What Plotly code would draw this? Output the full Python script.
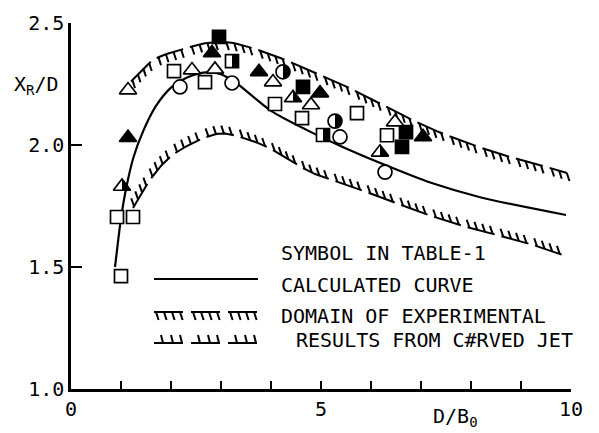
import numpy as np
import plotly.graph_objects as go

# ---------------- data ----------------
# calculated curve X_R/D vs D/B0
calc_x = [0.88, 0.95, 1.0, 1.1, 1.25, 1.45, 1.7, 2.0, 2.3, 2.7, 3.0, 3.3, 3.6, 4.0, 4.7, 5.4, 6.2, 7.2, 8.2, 9.9]
calc_y = [1.50, 1.62, 1.70, 1.82, 1.95, 2.06, 2.16, 2.235, 2.275, 2.298, 2.29, 2.255, 2.205, 2.14, 2.063, 1.995, 1.925, 1.845, 1.785, 1.713]

# domain of experimental results from curved jet (upper / lower bounds)
upper_x = [1.2, 1.64, 2.18, 2.72, 3.24, 3.92, 4.52, 4.98, 5.52, 5.92, 6.44, 7.12, 7.78, 8.52, 9.24, 9.92]
upper_y = [2.26, 2.348, 2.389, 2.418, 2.418, 2.377, 2.328, 2.287, 2.238, 2.197, 2.143, 2.074, 2.02, 1.967, 1.926, 1.885]
lower_x = [1.24, 1.58, 1.92, 2.32, 2.92, 3.38, 3.92, 4.44, 4.84, 5.52, 6.18, 7.04, 7.78, 8.52, 9.18, 9.84]
lower_y = [1.742, 1.857, 1.939, 1.996, 2.045, 2.033, 1.992, 1.93, 1.885, 1.836, 1.787, 1.721, 1.672, 1.631, 1.594, 1.549]

# experimental points (symbols in Table-1)
open_sq_x = [1.0, 0.92, 1.24, 2.06, 2.68, 4.08, 4.62, 5.72, 6.32]
open_sq_y = [1.463, 1.705, 1.705, 2.303, 2.258, 2.168, 2.11, 2.131, 2.04]
open_ci_x = [2.18, 3.22, 5.38, 6.28]
open_ci_y = [2.238, 2.254, 2.033, 1.889]
open_tr_x = [1.14, 2.42, 2.88, 4.04, 4.80, 6.48]
open_tr_y = [2.225, 2.307, 2.31, 2.258, 2.164, 2.094]
fill_tr_x = [1.14, 2.82, 3.76, 4.98, 7.04]
fill_tr_y = [2.03, 2.377, 2.30, 2.213, 2.033]
fill_sq_x = [2.96, 4.64, 6.7, 6.62]
fill_sq_y = [2.443, 2.238, 2.053, 1.992]
half_sq_x = [3.22, 5.04]
half_sq_y = [2.344, 2.041]
half_ci_x = [4.24, 5.28]
half_ci_y = [2.30, 2.098]
half_tr_x = [1.02, 4.44, 6.18]
half_tr_y = [1.83, 2.193, 1.97]

# ---------------- geometry ----------------
W, H = 599, 433
ML, MR, MT, MB = 71, 28, 23, 44
PW, PH = W - ML - MR, H - MT - MB
XR, YR = (0.0, 10.0), (1.0, 2.5)


def to_px(x, y):
    x = np.asarray(x, float)
    y = np.asarray(y, float)
    return ML + (x - XR[0]) / (XR[1] - XR[0]) * PW, MT + (YR[1] - y) / (YR[1] - YR[0]) * PH


def to_data(px, py):
    return XR[0] + (px - ML) / PW * (XR[1] - XR[0]), YR[1] - (py - MT) / PH * (YR[1] - YR[0])


def to_paper(px, py):
    return (px - ML) / PW, ((MT + PH) - py) / PH


def catmull(points, n=24):
    P = np.asarray(points, float)
    P = np.vstack([2 * P[0] - P[1], P, 2 * P[-1] - P[-2]])
    out = []
    t = np.linspace(0, 1, n, endpoint=False)[:, None]
    for i in range(1, len(P) - 2):
        p0, p1, p2, p3 = P[i - 1], P[i], P[i + 1], P[i + 2]
        out.append(0.5 * (2 * p1 + (-p0 + p2) * t + (2 * p0 - 5 * p1 + 4 * p2 - p3) * t ** 2
                          + (-p0 + 3 * p1 - 3 * p2 + p3) * t ** 3))
    out.append(P[-2][None])
    return np.vstack(out)


def hatch_segments(pts, tick_vec, dash=28.0, gap=7.0, ticks=(2.0, 10.0, 18.0, 26.0)):
    """Dashed hatch line in pixel space: groups of line with short ticks."""
    pts = np.asarray(pts, float)
    d = np.r_[0, np.cumsum(np.hypot(*np.diff(pts, axis=0).T))]
    total = d[-1]

    def at(s):
        return np.array([np.interp(s, d, pts[:, 0]), np.interp(s, d, pts[:, 1])])

    segs = []
    pos = 0.0
    tv = np.asarray(tick_vec, float)
    while pos < total - 3:
        end = min(pos + dash, total)
        ss = np.linspace(pos, end, 10)
        segs.append(np.array([at(s) for s in ss]))
        for tk in ticks:
            if pos + tk <= end:
                p = at(pos + tk)
                segs.append(np.array([p, p + tv]))
        pos += dash + gap
    return segs


UP_TICK = (2.6, 8.0)     # hanging down from upper bound
LO_TICK = (-2.8, -8.0)   # rising up from lower bound


def segs_to_trace_xy(segs):
    xs, ys = [], []
    for s in segs:
        dx, dy = to_data(s[:, 0], s[:, 1])
        xs += list(dx) + [None]
        ys += list(dy) + [None]
    return xs, ys


fig = go.Figure()

# calculated curve
fig.add_trace(go.Scatter(x=calc_x, y=calc_y, mode="lines",
                         line=dict(color="black", width=2.2, shape="spline", smoothing=0.8),
                         hoverinfo="skip"))

# domain bounds
for bx, by, tv in ((upper_x, upper_y, UP_TICK), (lower_x, lower_y, LO_TICK)):
    ppx, ppy = to_px(bx, by)
    dense = catmull(np.c_[ppx, ppy])
    hx, hy = segs_to_trace_xy(hatch_segments(dense, tv))
    fig.add_trace(go.Scatter(x=hx, y=hy, mode="lines",
                             line=dict(color="black", width=2.0), hoverinfo="skip"))

MLW = 1.7


def pts(x, y, symbol, fill, size):
    fig.add_trace(go.Scatter(x=x, y=y, mode="markers", cliponaxis=False,
                             marker=dict(symbol=symbol, size=size, color=fill,
                                         line=dict(color="black", width=MLW))))


SQ, CI, TR = 13, 14, 15
pts(open_sq_x, open_sq_y, "square", "white", SQ)
pts(half_sq_x, half_sq_y, "square", "white", SQ)
pts(fill_sq_x, fill_sq_y, "square", "black", SQ)
pts(open_ci_x, open_ci_y, "circle", "white", CI)
pts(half_ci_x, half_ci_y, "circle", "white", CI)
pts(open_tr_x, open_tr_y, "triangle-up", "white", TR)
pts(half_tr_x, half_tr_y, "triangle-up", "white", TR)
pts(fill_tr_x, fill_tr_y, "triangle-up", "black", TR)

# right-half fills of the half-filled symbols
shapes = []


def half_fill(xs, ys, offsets):
    cx, cy = to_px(xs, ys)
    for a, b in zip(cx, cy):
        dx, dy = to_data(a + offsets[:, 0], b + offsets[:, 1])
        path = "M " + " L ".join(f"{u:.5f},{v:.5f}" for u, v in zip(dx, dy)) + " Z"
        shapes.append(dict(type="path", xref="x", yref="y", path=path,
                           fillcolor="black", line=dict(width=0), layer="above"))


h = SQ / 2
half_fill(half_sq_x, half_sq_y, np.array([[0, -h], [h, -h], [h, h], [0, h]]))
ang = np.linspace(-np.pi / 2, np.pi / 2, 17)
half_fill(half_ci_x, half_ci_y, np.c_[CI / 2 * np.cos(ang), CI / 2 * np.sin(ang)])
r = TR / 2
half_fill(half_tr_x, half_tr_y, np.array([[0, -r], [r * 2 / np.sqrt(3), r / 2], [0, r / 2]]))


# legend keys (paper coordinates)
def paper_path(segs):
    parts = []
    for s in segs:
        qx, qy = to_paper(s[:, 0], s[:, 1])
        parts.append("M " + " L ".join(f"{u:.5f},{v:.5f}" for u, v in zip(qx, qy)))
    return " ".join(parts)


lx0, lx1 = 154, 258
a0, b0 = to_paper(np.array([lx0, lx1]), np.array([279, 279]))
shapes.append(dict(type="line", xref="paper", yref="paper", x0=a0[0], x1=a0[1], y0=b0[0], y1=b0[1],
                   line=dict(color="black", width=2.2)))
key_up = np.c_[np.linspace(lx0, lx1 + 2, 20), np.full(20, 312.0)]
shapes.append(dict(type="path", xref="paper", yref="paper",
                   path=paper_path(hatch_segments(key_up, UP_TICK, dash=29, gap=8)),
                   line=dict(color="black", width=2.0)))
key_lo = np.c_[np.linspace(lx0, lx1, 20), np.full(20, 343.0)]
shapes.append(dict(type="path", xref="paper", yref="paper",
                   path=paper_path(hatch_segments(key_lo, (-2.0, -8.0), dash=29, gap=8,
                                                  ticks=(9.0, 19.0, 28.0))),
                   line=dict(color="black", width=2.0)))

FONT = "DejaVu Sans Mono"
ann = []


def text(s, px, py, anchor="left", size=20):
    qx, qy = to_paper(px, py)
    ann.append(dict(text=s, x=qx, y=qy, xref="paper", yref="paper", xanchor=anchor,
                    yanchor="middle", showarrow=False, font=dict(family=FONT, size=size, color="black")))


text("SYMBOL IN TABLE-1", 279, 253)
text("CALCULATED CURVE", 279, 285)
text("DOMAIN OF EXPERIMENTAL", 279, 316)
text("RESULTS FROM C#RVED JET", 294, 340)
text("X<sub>R</sub>/D", 12, 85)
text("D/B<sub>0</sub>", 455, 417, anchor="center")

fig.update_layout(
    width=W, height=H, template="none",
    margin=dict(l=ML, r=MR, t=MT, b=MB, pad=0),
    paper_bgcolor="white", plot_bgcolor="white",
    showlegend=False, shapes=shapes, annotations=ann,
    font=dict(family=FONT, size=20, color="black"),
    xaxis=dict(range=list(XR), tickvals=[0, 5, 10], ticktext=["0", "5", "10"],
               ticks="inside", ticklen=8, tickwidth=2, tickcolor="black",
               minor=dict(tickvals=[1, 2, 3, 4, 6, 7, 8, 9], ticks="inside", ticklen=8,
                          tickwidth=2, tickcolor="black"),
               showline=True, linecolor="black", linewidth=2.5, showgrid=False,
               zeroline=False, automargin=False, tickfont=dict(family=FONT, size=20)),
    yaxis=dict(range=list(YR), tickvals=[1.0, 1.5, 2.0, 2.5], ticktext=["1.0", "1.5", "2.0", "2.5"],
               ticks="inside", ticklen=11, tickwidth=2, tickcolor="black",
               showline=True, linecolor="black", linewidth=2.5, showgrid=False,
               zeroline=False, automargin=False, tickfont=dict(family=FONT, size=20)),
)

fig.write_html("out.html")
